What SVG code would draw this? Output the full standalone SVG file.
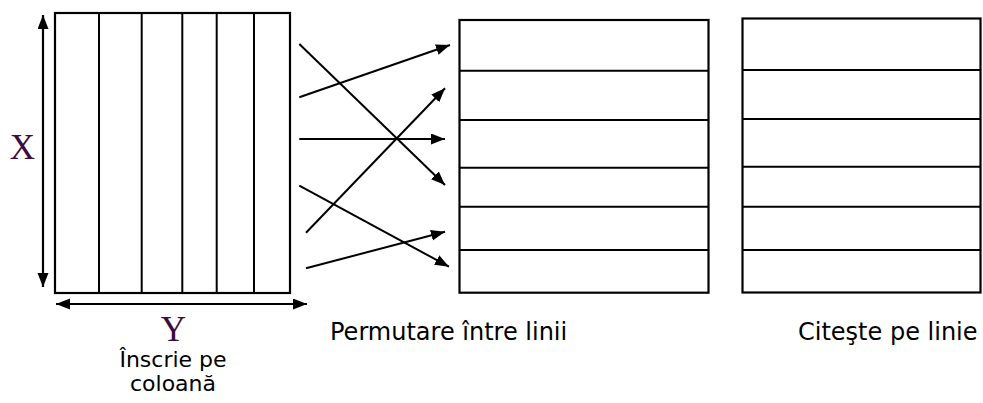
<svg xmlns="http://www.w3.org/2000/svg" width="983" height="403" viewBox="0 0 983 403">
  <style>
    .box { fill: #ffffff; stroke: #000000; stroke-width: 2.2; }
    .div { stroke: #000000; stroke-width: 2; fill: none; }
    .conn { stroke: #000000; stroke-width: 2; fill: none; marker-end: url(#arrow); }
    .dim { stroke: #000000; stroke-width: 2.2; fill: none; marker-start: url(#arrow); marker-end: url(#arrow); }
    .axis { font-family: "Liberation Serif", "Times New Roman", serif; font-size: 35px; fill: #3d0b3d; text-anchor: middle; }
    .lbl { font-family: "DejaVu Sans", Verdana, sans-serif; font-size: 22px; fill: #000000; }
    .lbl2 { font-family: "DejaVu Sans", Verdana, sans-serif; font-size: 24px; fill: #000000; }
  </style>
  <defs>
    <marker id="arrow" markerUnits="userSpaceOnUse" markerWidth="16" markerHeight="12" refX="14" refY="5.5" orient="auto-start-reverse">
      <path d="M0,0 L14,5.5 L0,11 Z" fill="#000000"/>
    </marker>
  </defs>

  <g id="grid-columns">
    <rect class="box" x="55" y="13" width="235" height="280"/>
    <line class="div" x1="99" y1="13" x2="99" y2="293"/>
    <line class="div" x1="141.7" y1="13" x2="141.7" y2="293"/>
    <line class="div" x1="182.3" y1="13" x2="182.3" y2="293"/>
    <line class="div" x1="216.7" y1="13" x2="216.7" y2="293"/>
    <line class="div" x1="254" y1="13" x2="254" y2="293"/>
  </g>

  <g id="grid-permuted">
    <rect class="box" x="459.5" y="20" width="249" height="272.7"/>
    <line class="div" x1="459.5" y1="70.7" x2="708.5" y2="70.7"/>
    <line class="div" x1="459.5" y1="120" x2="708.5" y2="120"/>
    <line class="div" x1="459.5" y1="167.7" x2="708.5" y2="167.7"/>
    <line class="div" x1="459.5" y1="206.7" x2="708.5" y2="206.7"/>
    <line class="div" x1="459.5" y1="250" x2="708.5" y2="250"/>
  </g>

  <g id="grid-read">
    <rect class="box" x="742.5" y="18.5" width="238" height="274"/>
    <line class="div" x1="742.5" y1="70" x2="980.5" y2="70"/>
    <line class="div" x1="742.5" y1="119" x2="980.5" y2="119"/>
    <line class="div" x1="742.5" y1="166.7" x2="980.5" y2="166.7"/>
    <line class="div" x1="742.5" y1="206.7" x2="980.5" y2="206.7"/>
    <line class="div" x1="742.5" y1="250" x2="980.5" y2="250"/>
  </g>

  <g id="dimensions">
    <line class="dim" x1="43" y1="15" x2="43" y2="287"/>
    <line class="dim" x1="56" y1="304" x2="307" y2="304"/>
  </g>

  <g id="connectors">
    <line class="conn" x1="299.3" y1="44" x2="445" y2="185"/>
    <line class="conn" x1="299.3" y1="97.3" x2="450" y2="45"/>
    <line class="conn" x1="299.3" y1="139" x2="445" y2="139"/>
    <line class="conn" x1="299.3" y1="185.7" x2="449" y2="266.7"/>
    <line class="conn" x1="306" y1="232.7" x2="445" y2="88.3"/>
    <line class="conn" x1="306" y1="268.3" x2="445" y2="231.7"/>
  </g>

  <g id="labels">
    <text class="axis" x="22.5" y="159">X</text>
    <text class="axis" x="173.3" y="341">Y</text>
    <text class="lbl" x="173" y="367" text-anchor="middle">Înscrie pe</text>
    <text class="lbl" x="173" y="391" text-anchor="middle">coloană</text>
    <text class="lbl2" x="330" y="340">Permutare între linii</text>
    <text class="lbl2" x="798" y="340">Citeşte pe linie</text>
  </g>
</svg>
